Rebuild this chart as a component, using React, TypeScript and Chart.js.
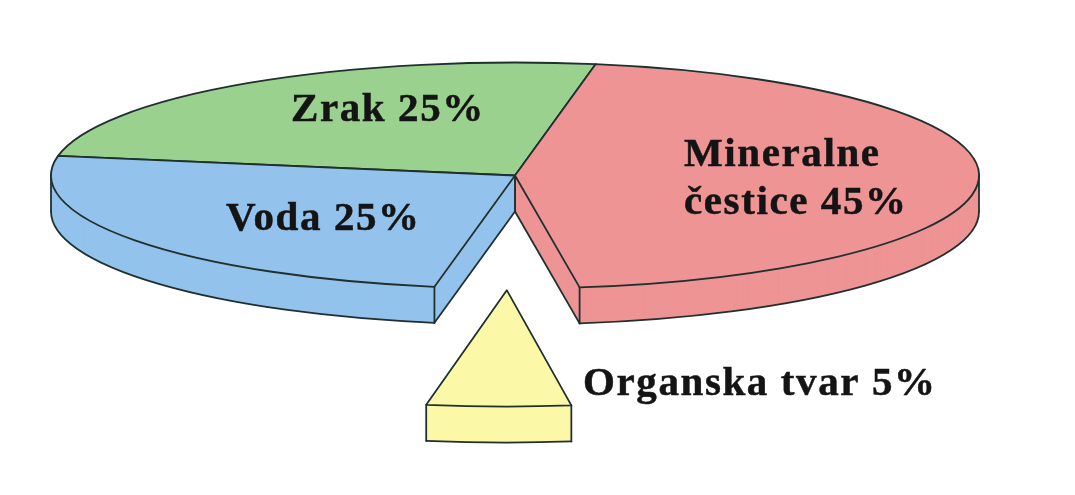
import React, { useEffect, useRef } from "react";
import { Chart, registerables } from "chart.js";

Chart.register(...registerables);

const categories = ["Mineralne čestice", "Organska tvar", "Voda", "Zrak"];
const shares = [45, 5, 25, 25];
const sliceColors = ["#ee9494", "#fbf8a8", "#93c3ec", "#9ad18f"];
const labelLines = [
  ["Mineralne", "čestice 45%"],
  ["Organska tvar 5%"],
  ["Voda 25%"],
  ["Zrak 25%"],
];

const CENTER_X = 515;
const CENTER_Y = 175.5;
const RADIUS = 200;
const SCALE_X = 464 / RADIUS;
const SCALE_Y = 113 / RADIUS;
const DEPTH = 36;
const PULL = [0, 203, 0, 0];
const STRETCH_Y = [1, 1.03, 1, 1];
const DRAW_ORDER = [3, 0, 2, 1];
const LINE = "#20302f";
const LABEL_POS = [
  [[684, 166], [684, 214]],
  [[583, 395]],
  [[226, 230]],
  [[291, 121]],
];

const pieces = {
  id: "pieces",
  beforeDatasetsDraw(chart: any) {
    const ctx = chart.ctx as CanvasRenderingContext2D;
    const arcs = chart.getDatasetMeta(0).data as any[];
    const TAU = Math.PI * 2;
    const place = (arc: any, i: number, dy: number) => {
      const mid = (arc.startAngle + arc.endAngle) / 2;
      ctx.setTransform(SCALE_X, 0, 0, SCALE_Y * STRETCH_Y[i], CENTER_X, CENTER_Y + dy);
      ctx.translate(
        -arc.x + Math.cos(mid) * PULL[i],
        -arc.y + (Math.sin(mid) * PULL[i]) / STRETCH_Y[i]
      );
    };
    const ink = () => {
      ctx.setTransform(1, 0, 0, 1, 0, 0);
      ctx.lineWidth = 1.8;
      ctx.strokeStyle = LINE;
      ctx.lineJoin = "round";
      ctx.lineCap = "round";
      ctx.stroke();
    };
    const outline = (arc: any, i: number) => {
      place(arc, i, 0);
      ctx.beginPath();
      ctx.moveTo(arc.x, arc.y);
      ctx.arc(arc.x, arc.y, arc.outerRadius, arc.startAngle, arc.endAngle);
      ctx.closePath();
      ink();
    };
    const frontIntervals = (a0: number, a1: number) => {
      const out: number[][] = [];
      for (let k = -2; k <= 2; k++) {
        const s = Math.max(a0, k * TAU);
        const e = Math.min(a1, k * TAU + Math.PI);
        if (e > s) out.push([s, e]);
      }
      return out;
    };
    const under = (arc: any, i: number) => {
      const a0 = arc.startAngle;
      const a1 = arc.endAngle;
      const startFaces = Math.sin(a0 - Math.PI / 2) > 0;
      const endFaces = Math.sin(a1 + Math.PI / 2) > 0;
      const front = frontIntervals(a0, a1);
      const point = (a: number, dy: number) => {
        const mid = (a0 + a1) / 2;
        return [
          CENTER_X + (Math.cos(mid) * PULL[i] + Math.cos(a) * arc.outerRadius) * SCALE_X,
          CENTER_Y + dy + (Math.sin(mid) * PULL[i] + Math.sin(a) * arc.outerRadius * STRETCH_Y[i]) * SCALE_Y,
        ];
      };
      const hub = (dy: number) => {
        const mid = (a0 + a1) / 2;
        return [
          CENTER_X + Math.cos(mid) * PULL[i] * SCALE_X,
          CENTER_Y + dy + Math.sin(mid) * PULL[i] * SCALE_Y,
        ];
      };
      const seg = (p: number[], q: number[]) => {
        ctx.setTransform(1, 0, 0, 1, 0, 0);
        ctx.beginPath();
        ctx.moveTo(p[0], p[1]);
        ctx.lineTo(q[0], q[1]);
        ink();
      };
      for (const [s, e] of front) {
        place(arc, i, DEPTH);
        ctx.beginPath();
        ctx.arc(arc.x, arc.y, arc.outerRadius, s, e);
        ink();
        seg(point(s, 0), point(s, DEPTH));
        seg(point(e, 0), point(e, DEPTH));
      }
      if (startFaces) seg(hub(DEPTH), point(a0, DEPTH));
      if (endFaces) seg(hub(DEPTH), point(a1, DEPTH));
      if (startFaces || endFaces) seg(hub(0), hub(DEPTH));
    };

    ctx.save();
    DRAW_ORDER.forEach((i) => {
      const arc = arcs[i];
      for (let dy = DEPTH; dy >= 0; dy -= 1) {
        ctx.save();
        place(arc, i, dy);
        arc.draw(ctx);
        ctx.restore();
      }
      under(arc, i);
    });
    DRAW_ORDER.forEach((i) => {
      const arc = arcs[i];
      ctx.save();
      place(arc, i, 0);
      arc.draw(ctx);
      ctx.restore();
      outline(arc, i);
    });
    ctx.restore();

    ctx.save();
    ctx.setTransform(1, 0, 0, 1, 0, 0);
    ctx.fillStyle = "#141414";
    ctx.strokeStyle = "#141414";
    ctx.lineWidth = 0.5;
    ctx.font = 'bold 41px "Liberation Serif"';
    (ctx as any).letterSpacing = "1.6px";
    ctx.textAlign = "left";
    ctx.textBaseline = "alphabetic";
    labelLines.forEach((lines, i) => {
      lines.forEach((t, j) => {
        ctx.fillText(t, LABEL_POS[i][j][0], LABEL_POS[i][j][1]);
        ctx.strokeText(t, LABEL_POS[i][j][0], LABEL_POS[i][j][1]);
      });
    });
    ctx.restore();
    return false;
  },
};

export default function App() {
  const ref = useRef<HTMLCanvasElement>(null);
  useEffect(() => {
    document.body.style.margin = "0";
    document.body.style.background = "#ffffff";
    const chart = new Chart(ref.current!, {
      type: "pie",
      data: {
        labels: categories,
        datasets: [
          {
            data: shares,
            backgroundColor: sliceColors,
            borderWidth: 0,
            radius: RADIUS,
          } as any,
        ],
      },
      options: {
        animation: false,
        responsive: false,
        rotation: 10,
        plugins: { legend: { display: false }, tooltip: { enabled: false } },
      },
      plugins: [pieces],
    } as any);
    return () => chart.destroy();
  }, []);
  return <canvas ref={ref} width={1075} height={495} style={{ display: "block", width: 1075, height: 495 }} />;
}
